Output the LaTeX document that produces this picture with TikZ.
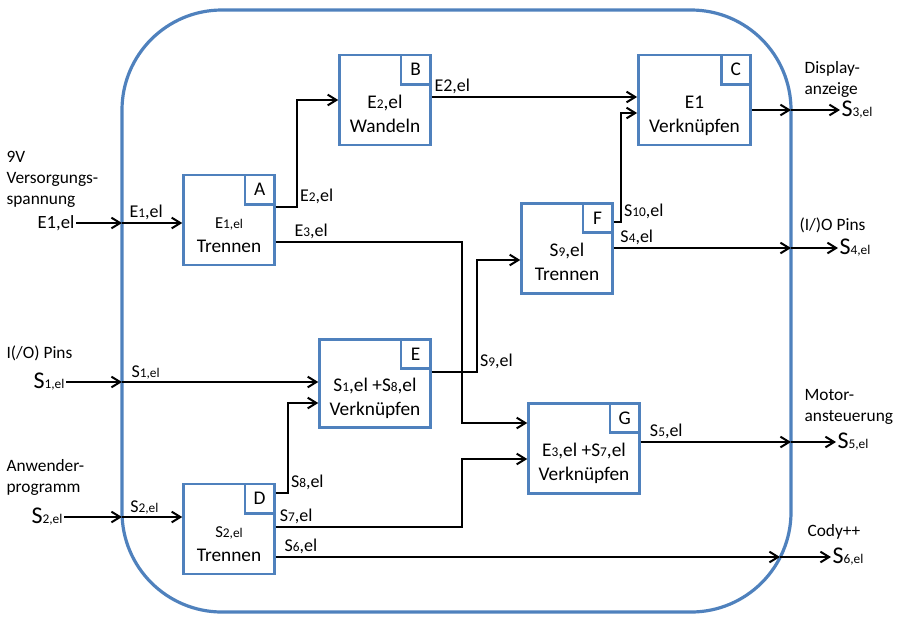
\documentclass[tikz,border=0pt]{standalone}
\usepackage{fontspec}
\setmainfont{Carlito}
\usepackage{tikz}
\usetikzlibrary{arrows.meta,positioning,calc}
\definecolor{frameblue}{RGB}{79,129,189}
\newcommand{\lo}[1]{{\fontsize{10}{10}\selectfont #1}}
\newcommand{\bigS}[1]{{\fontsize{18}{18}\selectfont #1}}
\tikzset{
  nodebox/.style={
    rectangle,
    draw=frameblue,
    line width=2.1pt,
    minimum width=68pt,
    minimum height=67.5pt,
    align=center,
    font=\fontsize{14.5}{18}\selectfont,
    text height=48pt,
    text depth=0pt,
    inner sep=1pt
  },
  tagbox/.style={
    rectangle,
    draw=frameblue,
    line width=2.1pt,
    minimum size=22pt,
    inner sep=0pt,
    anchor=north east,
    font=\fontsize{14.5}{18}\selectfont
  },
  sigtext/.style={font=\fontsize{13}{15.5}\selectfont, align=left, inner sep=1pt},
  lbl/.style={font=\fontsize{13.5}{15}\selectfont, inner sep=1.5pt},
  flow/.style={-{Straight Barb[length=6.5pt,width=8pt]}, line width=1.5pt, black}
}

\begin{document}
\begin{tikzpicture}[x=0.75pt,y=-0.75pt]
\useasboundingbox (0,0) rectangle (905,626);
% system boundary
\draw[frameblue, line width=2.4pt, rounded corners=75pt] (122,10) rectangle (791,612);

% function blocks
\node[nodebox] (A) at (229,220) {{\fontsize{12.5}{12.5}\selectfont E\lo{1,el}}\\Trennen};
\node[tagbox] (Atag) at (A.north east) {A};
\node[nodebox] (B) at (385,100) {E\lo{2},el\\Wandeln};
\node[tagbox] (Btag) at (B.north east) {B};
\node[nodebox, minimum width=84pt] (C) at (694.5,100) {E1\\Verknüpfen};
\node[tagbox] (Ctag) at (C.north east) {C};
\node[nodebox] (D) at (229,529) {{\fontsize{12.5}{12.5}\selectfont S\lo{2,el}}\\Trennen};
\node[tagbox] (Dtag) at (D.north east) {D};
\node[nodebox, minimum width=83pt, minimum height=66pt] (E) at (375,383.5) {S\lo{1},el +S\lo{8},el\\Verknüpfen};
\node[tagbox] (Etag) at (E.north east) {E};
\node[nodebox] (F) at (567,248.5) {S\lo{9},el\\Trennen};
\node[tagbox] (Ftag) at (F.north east) {F};
\node[nodebox, minimum width=83pt] (G) at (584,448.5) {E\lo{3},el +S\lo{7},el\\Verknüpfen};
\node[tagbox] (Gtag) at (G.north east) {G};

% inputs
\node[sigtext, anchor=north west] (vsrc) at (5,150) {9V\\Versorgungs-\\spannung};
\node[sigtext, anchor=east, font=\fontsize{14}{16}\selectfont] (inE1) at (76,223) {E1,el};
\coordinate (bE1) at (122,223);
\draw[flow] (inE1) -- (bE1);
\draw[flow] (bE1) -- node[lbl, above, pos=0.4]{E\lo{1},el} (A.west |- bE1);

\node[sigtext, anchor=west] (pinsin) at (5,353) {I(/O) Pins};
\node[sigtext, anchor=east] (inS1) at (66,382) {\bigS{S}\lo{1,el}};
\coordinate (bS1) at (122,382);
\draw[flow] (inS1) -- (bS1);
\draw[flow] (bS1) -- node[lbl, above, pos=0.12]{S\lo{1,el}} (E.west |- bS1);

\node[sigtext, anchor=north west] (user) at (5,458) {Anwender-\\programm};
\node[sigtext, anchor=east] (inS2) at (64,517) {\bigS{S}\lo{2,el}};
\coordinate (bS2) at (122,517);
\draw[flow] (inS2) -- (bS2);
\draw[flow] (bS2) -- node[lbl, above, pos=0.37]{S\lo{2,el}} (D.west |- bS2);

% internal flows
\draw[flow] (A.east |- 0,207) -- (297,207) node[lbl, above right]{E\lo{2},el} |- (B.west);
\draw[flow] (A.east |- 0,242) -- node[lbl, above, pos=0.19]{E\lo{3},el} (462,242) |- (G.west |- 0,423);
\draw[flow] (B.east |- 0,97) -- node[lbl, above, pos=0.1]{E2,el} (C.west |- 0,97);
\draw[flow] (F.east |- 0,222) -- (621,222) node[lbl, above right]{S\lo{10},el} |- (C.west |- 0,113);
\draw[flow] (E.east |- 0,372) -- (477,372) node[lbl, above right]{S\lo{9},el} |- (F.west |- 0,260);
\draw[flow] (D.east |- 0,493) -- (288,493) node[lbl, above right]{S\lo{8},el} |- (E.west |- 0,403);
\draw[flow] (D.east |- 0,527) -- node[lbl, above, pos=0.11]{S\lo{7},el} (462,527) |- (G.west |- 0,459);

% outputs
\coordinate (bS3) at (791,110);
\draw[flow] (C.east |- bS3) -- (bS3);
\node[sigtext, anchor=west] (outS3) at (840,110) {\bigS{S}\lo{3,el}};
\draw[flow] (bS3) -- (outS3);
\node[sigtext, anchor=north west] (disp) at (803,60) {Display-\\anzeige};

\coordinate (bS4) at (791,248);
\draw[flow] (F.east |- bS4) -- node[lbl, above, pos=0.13]{S\lo{4},el} (bS4);
\node[sigtext, anchor=west] (outS4) at (838,248) {\bigS{S}\lo{4,el}};
\draw[flow] (bS4) -- (outS4);
\node[sigtext, anchor=west] (pinsout) at (798,225) {(I/)O Pins};

\coordinate (bS5) at (791,442);
\draw[flow] (G.east |- bS5) -- node[lbl, above, pos=0.17]{S\lo{5},el} (bS5);
\node[sigtext, anchor=west] (outS5) at (836,442) {\bigS{S}\lo{5,el}};
\draw[flow] (bS5) -- (outS5);
\node[sigtext, anchor=north west] (motor) at (803,388) {Motor-\\ansteuerung};

\coordinate (bS6) at (780,557);
\draw[flow] (D.east |- bS6) -- node[lbl, above, pos=0.05]{S\lo{6},el} (bS6);
\node[sigtext, anchor=west] (outS6) at (831,557) {\bigS{S}\lo{6,el}};
\draw[flow] (bS6) -- (outS6);
\node[sigtext, anchor=west] (cody) at (806,532) {Cody++};
\end{tikzpicture}
\end{document}
